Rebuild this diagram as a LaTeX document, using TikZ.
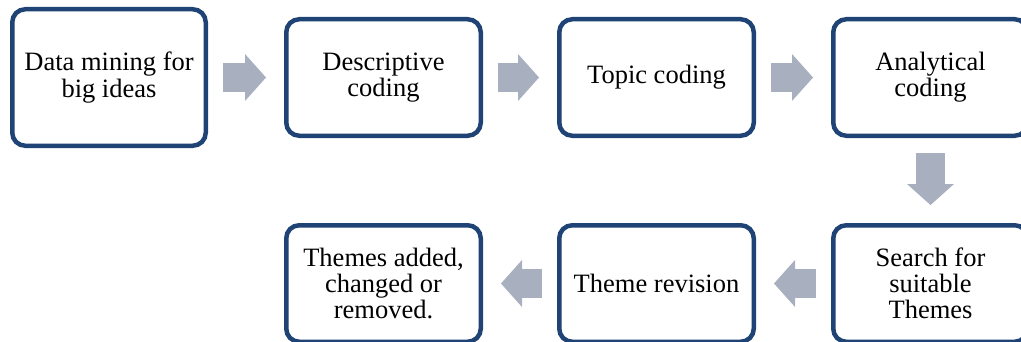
\documentclass[tikz,border=0pt]{standalone}
\usepackage{fontspec}
\setmainfont{Liberation Serif}
\usepackage{tikz}
\usetikzlibrary{arrows.meta}
\definecolor{boxblue}{RGB}{31,67,117}
\definecolor{arrowgrey}{RGB}{168,175,190}
\tikzset{
	stepbox/.style={draw=boxblue, line width=2.25pt, rounded corners=6.5pt, fill=white,
		align=center, inner sep=2pt, minimum width=97.25pt, minimum height=58.25pt,
		font=\fontsize{13.25}{13.1}\selectfont},
	bigbox/.style={stepbox, minimum width=96.75pt, minimum height=68.25pt},
	flow/.style={draw=arrowgrey, line width=14.5pt, shorten <=7.5pt, shorten >=9pt,
		-{Triangle[width=23.5pt,length=10.5pt,line width=0pt]}},
}

\begin{document}
\begin{tikzpicture}[x=0.5pt, y=-0.5pt]
		\useasboundingbox (0,0) rectangle (1021,342);
		%
		\node[bigbox]  (mining)   at (109,77.5)    {Data mining for\\big ideas};
		\node[stepbox] (descr)    at (383.5,77.5)  {Descriptive\\coding};
		\node[stepbox] (topic)    at (656.5,77.5)  {Topic coding};
		\node[stepbox] (analyt)   at (930.5,77.5)  {Analytical\\coding};
		%
		\node[stepbox] (search)   at (930.5,283.5) {Search for\\suitable\\Themes};
		\node[stepbox] (revision) at (656.5,283.5) {Theme revision};
		\node[stepbox] (changed)  at (383.5,283.5) {Themes added,\\changed or\\removed.};
		%
		\draw[flow] (mining) -- (descr);
		\draw[flow] (descr) -- (topic);
		\draw[flow] (topic) -- (analyt);
		\draw[flow] (analyt) -- (search);
		\draw[flow] (search) -- (revision);
		\draw[flow] (revision) -- (changed);
\end{tikzpicture}
\end{document}
